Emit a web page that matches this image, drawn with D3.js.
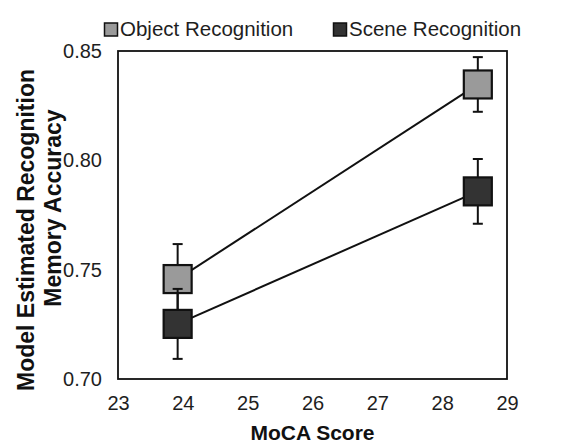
<!DOCTYPE html>
<meta charset="utf-8">
<style>
body { margin: 0; background: #fff; }
text { font-family: "Liberation Sans", Arial, sans-serif; fill: #1e1e1e; }
.axis-title { font-weight: bold; fill: #111; }
</style>
<svg width="564" height="444"></svg>
<script src="https://d3js.org/d3.v7.min.js"></script>
<script>

// values
var series = ["Object Recognition", "Scene Recognition"];
var colors = ["#9a9a9a", "#333333"];
var moca = [23.92, 28.55];
var objectAcc = [0.7457, 0.8347];
var objectErr = [0.016, 0.0125];
var sceneAcc = [0.7252, 0.7858];
var sceneErr = [0.016, 0.0148];
var xTicks = [23, 24, 25, 26, 27, 28, 29];
var yTicks = [0.70, 0.75, 0.80, 0.85];

var svg = d3.select("svg");
var margin = {left: 118, right: 57, top: 51, bottom: 65};
var width = 564 - margin.left - margin.right,
    height = 444 - margin.top - margin.bottom;

var x = d3.scaleLinear().domain([23, 29]).range([margin.left, margin.left + width]);
var y = d3.scaleLinear().domain([0.70, 0.85]).range([margin.top + height, margin.top]);

// frame
svg.append("rect")
    .attr("x", x(23)).attr("y", y(0.85))
    .attr("width", x(29) - x(23)).attr("height", y(0.70) - y(0.85))
    .attr("fill", "none").attr("stroke", "#111").attr("stroke-width", 1.8);

// tick labels, no tick marks
var xAxis = svg.append("g")
    .attr("transform", "translate(0," + y(0.70) + ")")
    .call(d3.axisBottom(x).tickValues(xTicks).tickSize(0).tickFormat(d3.format("d")));
xAxis.select(".domain").remove();
xAxis.selectAll("text").attr("font-size", 20).attr("font-family", null)
    .attr("y", 31).attr("dy", null);

var yAxis = svg.append("g")
    .attr("transform", "translate(" + (x(23) - 13) + ",0)")
    .call(d3.axisLeft(y).tickValues(yTicks).tickSize(0).tickFormat(d3.format(".2f")));
yAxis.select(".domain").remove();
yAxis.selectAll("text").attr("font-size", 20).attr("font-family", null);

// axis titles
svg.append("text").attr("class", "axis-title")
    .attr("x", x(26)).attr("y", 440)
    .attr("text-anchor", "middle").attr("font-size", 21)
    .text("MoCA Score");

svg.append("text").attr("class", "axis-title")
    .attr("transform", "translate(34,230) rotate(-90)")
    .attr("text-anchor", "middle").attr("font-size", 23)
    .text("Model Estimated Recognition");
svg.append("text").attr("class", "axis-title")
    .attr("transform", "translate(61,208) rotate(-90)")
    .attr("text-anchor", "middle").attr("font-size", 23)
    .text("Memory Accuracy");

var data = [
  {name: series[0], color: colors[0], acc: objectAcc, err: objectErr},
  {name: series[1], color: colors[1], acc: sceneAcc, err: sceneErr}
];

var line = d3.line()
    .x(function(d) { return x(d.x); })
    .y(function(d) { return y(d.y); });

var g = svg.selectAll(".series")
  .data(data)
  .enter().append("g")
    .attr("class", "series");

g.append("path")
    .attr("d", function(d) { return line(moca.map(function(m, i) { return {x: m, y: d.acc[i]}; })); })
    .attr("fill", "none").attr("stroke", "#111").attr("stroke-width", 2);

var pts = g.selectAll(".pt")
  .data(function(d) { return moca.map(function(m, i) { return {x: m, y: d.acc[i], e: d.err[i], color: d.color}; }); })
  .enter().append("g")
    .attr("class", "pt");

pts.append("line")
    .attr("x1", function(d) { return x(d.x); }).attr("x2", function(d) { return x(d.x); })
    .attr("y1", function(d) { return y(d.y - d.e); }).attr("y2", function(d) { return y(d.y + d.e); })
    .attr("stroke", "#111").attr("stroke-width", 2);

[-1, 1].forEach(function(s) {
  pts.append("line")
      .attr("x1", function(d) { return x(d.x) - 5; }).attr("x2", function(d) { return x(d.x) + 5; })
      .attr("y1", function(d) { return y(d.y + s * d.e); }).attr("y2", function(d) { return y(d.y + s * d.e); })
      .attr("stroke", "#111").attr("stroke-width", 2);
});

pts.append("rect")
    .attr("x", function(d) { return x(d.x) - 14; })
    .attr("y", function(d) { return y(d.y) - 14; })
    .attr("width", 28).attr("height", 28)
    .attr("fill", function(d) { return d.color; })
    .attr("stroke", "#111").attr("stroke-width", 2.2);

// legend
var legX = [104, 333];
var leg = svg.selectAll(".legend")
  .data(data)
  .enter().append("g")
    .attr("class", "legend")
    .attr("transform", function(d, i) { return "translate(" + legX[i] + ",0)"; });

leg.append("rect")
    .attr("x", 0.5).attr("y", 23)
    .attr("width", 13).attr("height", 13)
    .attr("fill", function(d) { return d.color; })
    .attr("stroke", "#111").attr("stroke-width", 1.5);

leg.append("text")
    .attr("x", 16).attr("y", 36)
    .attr("font-size", 20.5)
    .text(function(d) { return d.name; });

</script>
